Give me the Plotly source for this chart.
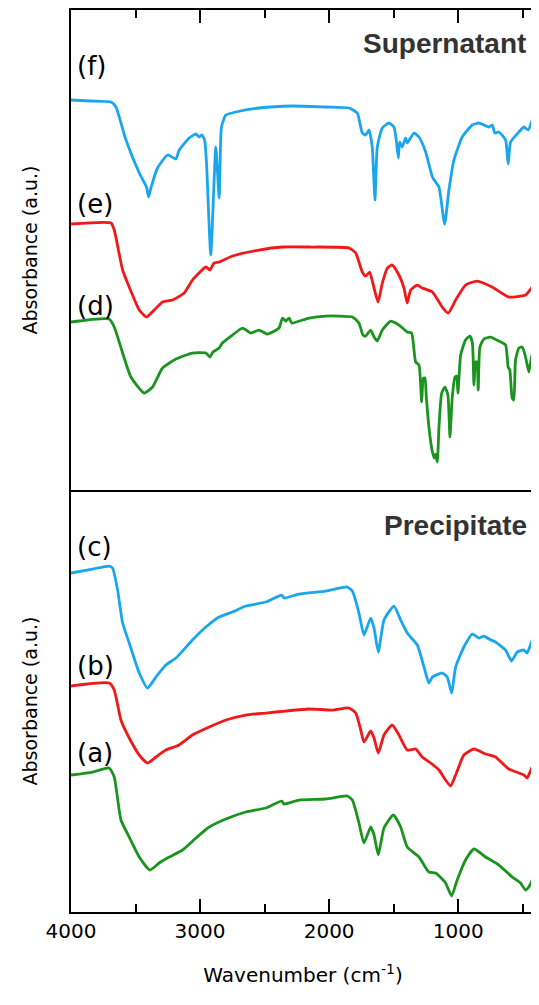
import plotly.graph_objects as go

# ---------------- data (wavenumber cm-1, absorbance a.u. offset) ----------------
wn_f = [4000, 3850, 3690, 3652, 3574, 3471, 3415, 3399, 3381, 3330, 3252, 3187, 3162, 3084, 3032, 3007, 2986,
        2965, 2950, 2917, 2878, 2852, 2834, 2800, 2723, 2543, 2285, 2026, 1846, 1782, 1743, 1717, 1691, 1666,
        1645, 1627, 1588, 1537, 1498, 1480, 1464, 1454, 1434, 1408, 1395, 1343, 1304, 1252, 1200, 1175, 1149,
        1105, 1072, 1033, 969, 891, 840, 762, 736, 716, 685, 633, 613, 594, 530, 491, 458, 427, 405]
abs_f = [3.90, 3.89, 3.88, 3.83, 3.50, 3.17, 3.03, 2.93, 3.02, 3.22, 3.35, 3.31, 3.40, 3.52, 3.56, 3.53, 3.55,
         3.50, 3.27, 2.35, 3.43, 2.92, 3.63, 3.75, 3.78, 3.82, 3.84, 3.83, 3.82, 3.77, 3.57, 3.55, 3.60, 3.43,
         2.90, 3.43, 3.62, 3.67, 3.63, 3.50, 3.32, 3.48, 3.43, 3.52, 3.47, 3.57, 3.53, 3.38, 3.13, 3.08, 3.03,
         2.66, 3.00, 3.30, 3.53, 3.65, 3.67, 3.63, 3.65, 3.57, 3.58, 3.50, 3.26, 3.48, 3.58, 3.63, 3.60, 3.70, 3.83]

wn_e = [4000, 3690, 3665, 3600, 3549, 3471, 3415, 3355, 3291, 3214, 3123, 3059, 2955, 2924, 2891, 2852, 2749,
        2543, 2362, 2156, 1846, 1794, 1743, 1717, 1686, 1652, 1621, 1588, 1549, 1511, 1459, 1420, 1395, 1368,
        1317, 1279, 1200, 1124, 1077, 1020, 943, 853, 737, 608, 478, 427, 405]
abs_e = [2.66, 2.67, 2.60, 2.20, 2.03, 1.80, 1.73, 1.80, 1.88, 1.90, 1.97, 2.10, 2.23, 2.20, 2.27, 2.28, 2.34,
         2.40, 2.43, 2.43, 2.42, 2.37, 2.18, 2.14, 2.18, 2.02, 1.88, 2.07, 2.22, 2.25, 2.15, 2.02, 1.87, 2.00,
         2.05, 2.02, 1.98, 1.83, 1.77, 1.90, 2.05, 2.09, 2.03, 1.93, 1.95, 2.03, 2.10]

wn_d = [4000, 3704, 3665, 3600, 3536, 3433, 3368, 3291, 3187, 3059, 2955, 2924, 2900, 2852, 2827, 2749, 2671,
        2607, 2543, 2478, 2388, 2362, 2336, 2310, 2290, 2156, 2026, 1820, 1769, 1738, 1717, 1678, 1652, 1627,
        1588, 1523, 1485, 1459, 1395, 1361, 1330, 1304, 1283, 1270, 1258, 1247, 1227, 1200, 1185, 1175, 1162,
        1149, 1128, 1103, 1080, 1064, 1046, 1025, 1012, 1002, 981, 943, 909, 890, 878, 865, 855, 845, 832,
        801, 750, 685, 633, 613, 600, 582, 569, 556, 530, 504, 478, 453, 432, 405]
abs_d = [1.68, 1.71, 1.63, 1.37, 1.13, 0.97, 1.03, 1.22, 1.31, 1.37, 1.37, 1.33, 1.38, 1.42, 1.47, 1.55, 1.62,
         1.57, 1.60, 1.56, 1.62, 1.72, 1.69, 1.72, 1.67, 1.72, 1.74, 1.73, 1.67, 1.55, 1.54, 1.60, 1.53, 1.49,
         1.60, 1.69, 1.67, 1.65, 1.58, 1.57, 1.28, 1.25, 0.88, 1.12, 1.12, 0.93, 0.63, 0.38, 0.32, 0.36, 0.28,
         0.63, 0.97, 1.03, 0.95, 0.53, 0.93, 1.13, 1.14, 0.97, 1.35, 1.50, 1.54, 1.47, 1.05, 1.28, 1.28, 1.00, 1.43,
         1.51, 1.53, 1.49, 1.45, 1.23, 1.20, 0.92, 0.90, 1.30, 1.42, 1.43, 1.33, 1.18, 1.33, 1.45]

wn_c = [4000, 3833, 3704, 3678, 3639, 3600, 3549, 3471, 3407, 3342, 3265, 3187, 3059, 2955, 2852, 2749, 2646,
        2491, 2367, 2350, 2233, 2026, 1859, 1820, 1769, 1730, 1678, 1652, 1619, 1575, 1498, 1446, 1395, 1317,
        1265, 1227, 1200, 1124, 1085, 1051, 1020, 956, 891, 840, 801, 762, 711, 633, 587, 543, 491, 466, 427, 405]
abs_c = [3.39, 3.43, 3.46, 3.44, 3.22, 2.89, 2.69, 2.39, 2.24, 2.35, 2.47, 2.54, 2.72, 2.85, 2.95, 3.00, 3.06,
         3.10, 3.17, 3.14, 3.18, 3.21, 3.25, 3.21, 2.99, 2.77, 2.94, 2.84, 2.60, 2.92, 3.06, 2.92, 2.79, 2.67,
         2.45, 2.29, 2.35, 2.39, 2.35, 2.19, 2.45, 2.65, 2.78, 2.74, 2.76, 2.73, 2.70, 2.62, 2.51, 2.60, 2.62,
         2.59, 2.72, 2.80]

wn_b = [4000, 3704, 3665, 3613, 3549, 3471, 3407, 3342, 3265, 3162, 3059, 2929, 2800, 2646, 2491, 2336, 2156,
        1975, 1846, 1794, 1755, 1730, 1678, 1652, 1619, 1575, 1511, 1459, 1395, 1330, 1279, 1214, 1149, 1098,
        1059, 1020, 956, 878, 788, 711, 608, 491, 466, 427, 405]
abs_b = [2.26, 2.29, 2.22, 1.92, 1.74, 1.57, 1.49, 1.55, 1.62, 1.67, 1.77, 1.85, 1.92, 1.97, 1.99, 2.01, 2.03,
         2.02, 2.04, 1.99, 1.82, 1.70, 1.81, 1.74, 1.59, 1.77, 1.87, 1.77, 1.62, 1.63, 1.55, 1.49, 1.42, 1.32,
         1.26, 1.37, 1.57, 1.63, 1.58, 1.55, 1.43, 1.37, 1.34, 1.45, 1.48]

wn_a = [4000, 3833, 3704, 3665, 3613, 3549, 3471, 3389, 3317, 3239, 3136, 3032, 2929, 2800, 2646, 2491, 2367,
        2350, 2233, 2026, 1859, 1820, 1769, 1730, 1678, 1652, 1619, 1575, 1503, 1446, 1395, 1304, 1227, 1175,
        1098, 1051, 1008, 943, 878, 788, 685, 582, 517, 479, 453, 427, 405]
abs_a = [1.37, 1.40, 1.44, 1.35, 0.92, 0.75, 0.55, 0.42, 0.49, 0.55, 0.62, 0.74, 0.85, 0.93, 1.00, 1.04, 1.11,
         1.08, 1.12, 1.13, 1.16, 1.12, 0.89, 0.69, 0.85, 0.77, 0.57, 0.84, 0.97, 0.85, 0.65, 0.55, 0.40, 0.39,
         0.29, 0.16, 0.32, 0.52, 0.63, 0.55, 0.47, 0.35, 0.29, 0.22, 0.25, 0.32, 0.40]

curve_labels = ["(a)", "(b)", "(c)", "(d)", "(e)", "(f)"]
panel_titles = ["Supernatant", "Precipitate"]

BLUE = "#1AA6EE"
RED = "#F01818"
GREEN = "#1A941E"

fig = go.Figure()
line_opts = dict(width=2.8, shape="spline", smoothing=0.5)
# bottom panel (precipitate)
for wn, ab, col in [(wn_a, abs_a, GREEN), (wn_b, abs_b, RED), (wn_c, abs_c, BLUE)]:
    fig.add_trace(go.Scatter(x=wn, y=ab, mode="lines", line=dict(color=col, **line_opts),
                             xaxis="x", yaxis="y", showlegend=False, hoverinfo="skip"))
# top panel (supernatant)
for wn, ab, col in [(wn_d, abs_d, GREEN), (wn_e, abs_e, RED), (wn_f, abs_f, BLUE)]:
    fig.add_trace(go.Scatter(x=wn, y=ab, mode="lines", line=dict(color=col, **line_opts),
                             xaxis="x2", yaxis="y2", showlegend=False, hoverinfo="skip"))

split = 0.4678
axis_common = dict(showline=True, linecolor="black", linewidth=2,
                   showgrid=False, zeroline=False)

# page body has an 8px margin, so the figure is sized to fit inside the window
fig.update_layout(
    width=531, height=989,
    margin=dict(l=63, r=2, t=2, b=85),
    paper_bgcolor="white", plot_bgcolor="white",
    font=dict(family="DejaVu Sans", color="black"),
    xaxis=dict(**axis_common, mirror=False, range=[4000, 405], anchor="y", domain=[0, 1],
               ticks="inside", ticklen=13, tickwidth=2, tickcolor="black",
               tickmode="linear", tick0=0, dtick=1000,
               minor=dict(ticks="inside", ticklen=8, tickwidth=2, tickcolor="black", dtick=500, tick0=0),
               tickfont=dict(size=20, family="DejaVu Sans"),
               title=dict(text="Wavenumber (cm<sup>-1</sup>)", font=dict(size=20), standoff=26)),
    xaxis2=dict(**axis_common, mirror=True, range=[4000, 405], anchor="y2", matches="x", side="top",
                ticks="inside", ticklen=13, tickwidth=2, tickcolor="black",
                tickmode="linear", tick0=0, dtick=1000, showticklabels=False,
                minor=dict(ticks="inside", ticklen=8, tickwidth=2, tickcolor="black", dtick=500, tick0=0)),
    yaxis=dict(**axis_common, mirror=True, range=[0, 4.22], domain=[0, split], showticklabels=False, ticks="",
               title=dict(text="Absorbance (a.u.)", font=dict(size=19), standoff=26)),
    yaxis2=dict(**axis_common, mirror=True, range=[0, 4.80], domain=[split, 1], showticklabels=False, ticks="",
                title=dict(text="Absorbance (a.u.)", font=dict(size=19), standoff=26)),
)

# curve labels
label_pos = {"(a)": 0.176, "(b)": 0.273, "(c)": 0.405, "(d)": 0.672, "(e)": 0.785, "(f)": 0.938}
for lab in curve_labels:
    fig.add_annotation(text=lab, xref="paper", yref="paper", x=0.008, y=label_pos[lab],
                       xanchor="left", yanchor="middle", showarrow=False,
                       font=dict(size=26, family="DejaVu Sans", color="black"))

fig.add_annotation(text="<b>%s</b>" % panel_titles[0], xref="paper", yref="paper", x=0.985, y=0.963,
                   xanchor="right", yanchor="middle", showarrow=False,
                   font=dict(size=28, family="Liberation Sans", color="#333333"))
fig.add_annotation(text="<b>%s</b>" % panel_titles[1], xref="paper", yref="paper", x=0.987, y=0.428,
                   xanchor="right", yanchor="middle", showarrow=False,
                   font=dict(size=28, family="Liberation Sans", color="#333333"))

fig.write_html("out.html")
